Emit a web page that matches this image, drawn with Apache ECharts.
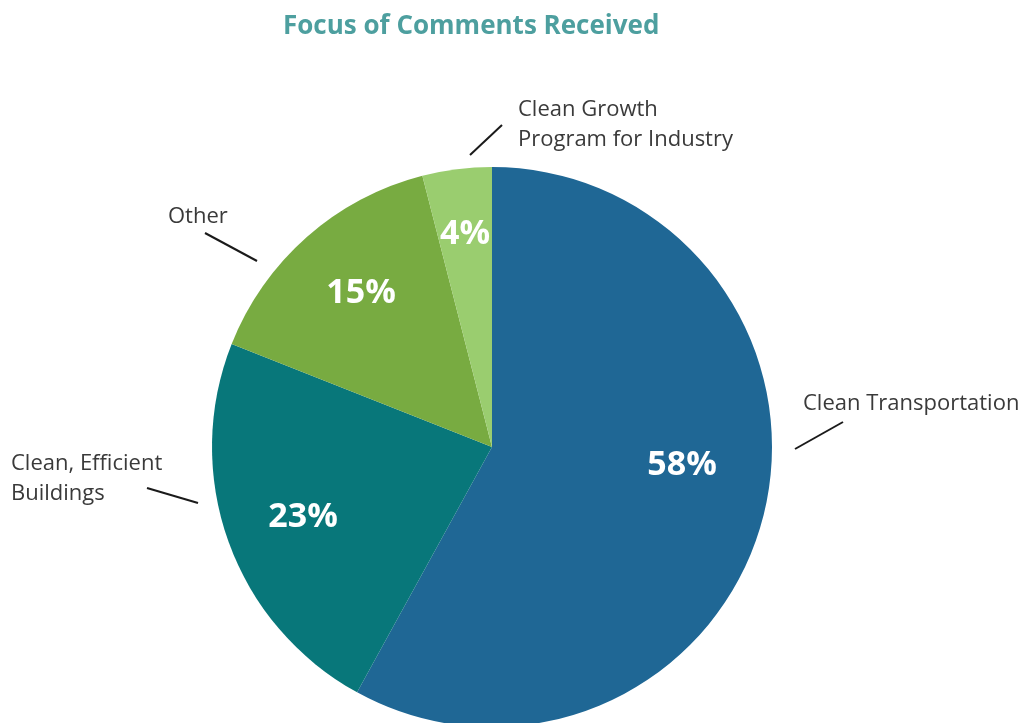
<!DOCTYPE html>
<html>
<head>
<meta charset="utf-8">
<script src="https://cdn.jsdelivr.net/npm/echarts@6/dist/echarts.min.js"></script>
<style>
  html, body { margin: 0; padding: 0; background: #fff; }
  #chart { width: 1022px; height: 723px; }
</style>
</head>
<body>
<div id="chart"></div>
<script>
const categories = ['Clean Transportation', 'Clean, Efficient\nBuildings', 'Other', 'Clean Growth\nProgram for Industry']
const shares = [58, 23, 15, 4]
const sliceColors = ['#1f6795', '#08777a', '#78ab41', '#9acd6f']

// hand placed label spots, the reference does not put them on mid angles
const innerSpots = [[682, 465], [303, 517], [361, 293], [465, 234]]
const outerSpots = [
  { x: 803, y: 404, line: [[795, 449], [843, 422]] },
  { x: 11, y: 479, line: [[198, 503], [147, 488]] },
  { x: 168, y: 217, line: [[257, 261], [205, 233]] },
  { x: 518, y: 125, line: [[470, 155], [502, 125]] }
]

const pieData = categories.map((name, i) => ({
  name: name,
  value: shares[i],
  itemStyle: { color: sliceColors[i] }
}))

const chart = echarts.init(document.getElementById('chart'))

chart.setOption({
  animation: false,
  title: {
    text: 'Focus of Comments Received',
    left: 278,
    top: 9,
    textStyle: {
      fontFamily: 'Open Sans',
      fontSize: 26,
      fontWeight: 'bold',
      color: '#4d9f9f'
    }
  },
  series: [
    {
      type: 'pie',
      center: [492, 447],
      radius: [0, 280],
      startAngle: 90,
      clockwise: true,
      silent: true,
      itemStyle: { borderWidth: 0 },
      label: {
        show: true,
        position: 'inside',
        formatter: p => p.value + '%',
        color: '#fff',
        fontFamily: 'Open Sans',
        fontWeight: 'bold',
        fontSize: 34
      },
      labelLine: { show: false },
      labelLayout: p => ({
        x: innerSpots[p.dataIndex][0],
        y: innerSpots[p.dataIndex][1],
        align: 'center',
        verticalAlign: 'middle'
      }),
      data: pieData
    },
    {
      type: 'pie',
      center: [492, 447],
      radius: [0, 280],
      startAngle: 90,
      clockwise: true,
      silent: true,
      itemStyle: { color: 'rgba(0,0,0,0)', borderWidth: 0 },
      label: {
        show: true,
        position: 'outside',
        formatter: p => p.name,
        color: '#3a3a3a',
        fontFamily: 'Open Sans',
        fontSize: 22,
        lineHeight: 30
      },
      labelLine: {
        show: true,
        length: 10,
        length2: 10,
        lineStyle: { color: '#1a1a1a', width: 2 }
      },
      labelLayout: p => {
        const s = outerSpots[p.dataIndex]
        return {
          x: s.x,
          y: s.y,
          align: 'left',
          verticalAlign: 'middle',
          labelLinePoints: [s.line[0], s.line[1], s.line[1]]
        }
      },
      data: categories.map((name, i) => ({ name: name, value: shares[i] }))
    }
  ]
})
</script>
</body>
</html>
